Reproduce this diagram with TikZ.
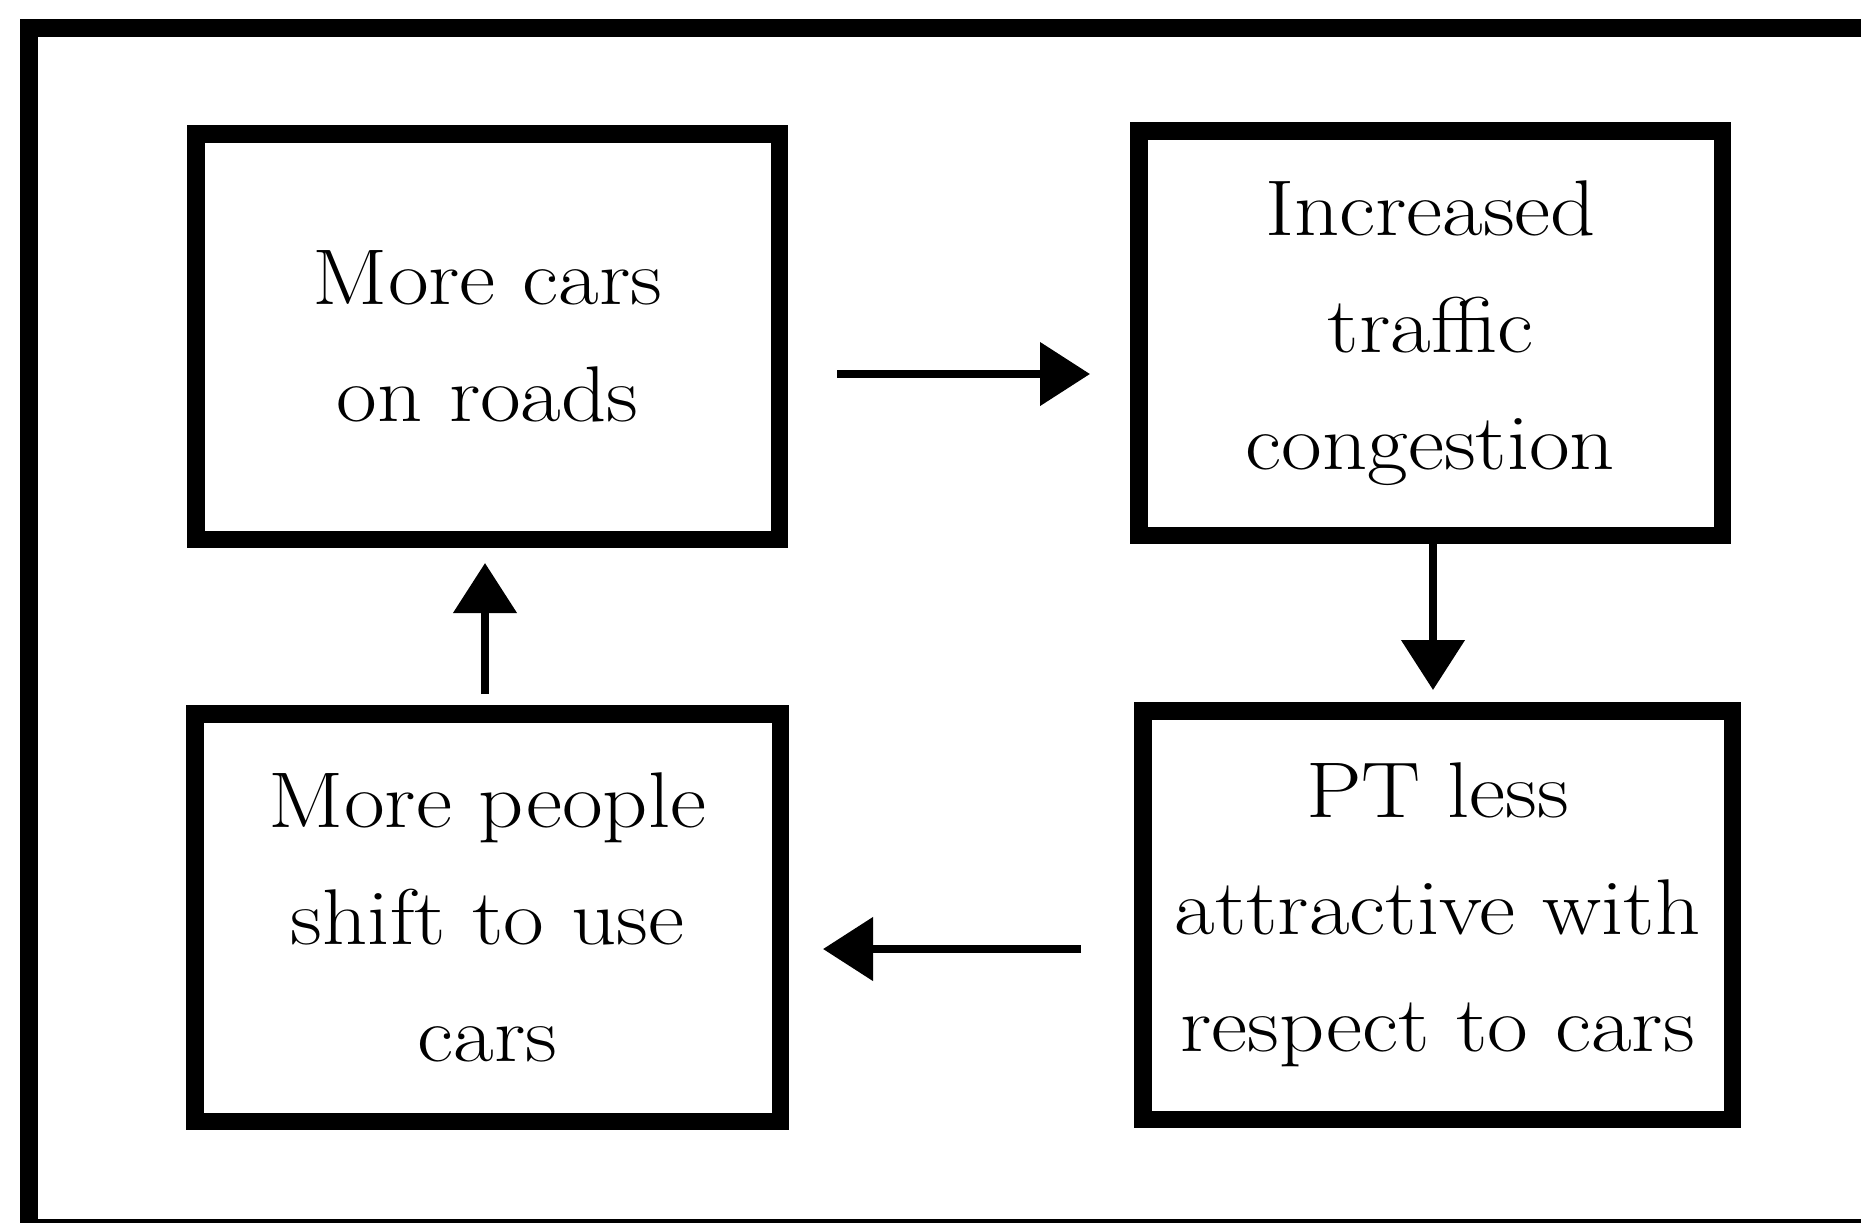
\documentclass[tikz,border=0pt]{standalone}
\usepackage{fontspec}
\setmainfont{Latin Modern Roman}[FakeStretch=1.12]
\usetikzlibrary{arrows.meta,calc}
\tikzset{
  boxnode/.style={draw=black, line width=8.75pt, inner sep=0pt, align=center,
    font=\fontsize{39.5pt}{58.5pt}\selectfont},
  arr/.style={draw=black, line width=4pt, -{Triangle[length=25pt,width=31pt]}},
  frameline/.style={draw=black, line width=9pt},
}
\begin{document}
\begin{tikzpicture}[x=0.5pt,y=-0.5pt]
  \useasboundingbox (0,0) rectangle (1861,1222);
  \clip (0,0) rectangle (1861,1222);
  \fill[white] (0,0) rectangle (1861,1222);
  % outer frame (right and bottom run past the picture edge)
  \draw[frameline] (29,28) rectangle (1890,1228);
  % boxes
  \node[boxnode, minimum width=291.75pt, minimum height=202.75pt] (b1) at (487.5,336.5)
    {More cars\\on roads};
  \node[boxnode, minimum width=291.75pt, minimum height=202.25pt] (b2) at (1430.5,333)
    {Increased\\traffic\\congestion};
  \node[boxnode, minimum width=294.75pt, minimum height=204.25pt] (b3) at (1437.5,915)
    {PT less\\attractive with\\respect to cars};
  \node[boxnode, minimum width=292.75pt, minimum height=203.75pt] (b4) at (487.5,917.5)
    {More people\\shift to use\\cars};
  % arrows
  \coordinate (a1s) at ($(b1.east)+(49,37.5)$);
  \coordinate (a1e) at (b2.west |- a1s);
  \draw[arr] (a1s) -- ([xshift=-20pt]a1e);
  \coordinate (a2s) at ($(b2.south)+(2.5,0)$);
  \coordinate (a2e) at (a2s |- b3.north);
  \draw[arr] (a2s) -- ([yshift=6pt]a2e);
  \coordinate (a3s) at ($(b3.west)+(-53,34)$);
  \coordinate (a3e) at (b4.east |- a3s);
  \draw[arr] (a3s) -- ([xshift=17pt]a3e);
  \coordinate (a4s) at ($(b4.north)+(-2.5,-11)$);
  \coordinate (a4e) at (a4s |- b1.south);
  \draw[arr] (a4s) -- ([yshift=-7.5pt]a4e);
\end{tikzpicture}
\end{document}
